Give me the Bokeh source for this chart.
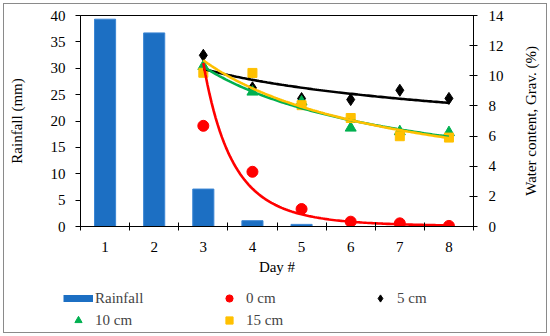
import math
import numpy as np
from bokeh.plotting import figure
from bokeh.layouts import column, row
from bokeh.models import (Range1d, LinearAxis, FixedTicker, SingleIntervalTicker,
                          ColumnDataSource, Legend, LegendItem, Label)
from bokeh.core.properties import value
from bokeh.embed import file_html
from bokeh.resources import INLINE

# ---- data ----
days = [1, 2, 3, 4, 5, 6, 7, 8]
rainfall = [39.3, 36.7, 7.1, 1.1, 0.4, 0.0, 0.0, 0.0]
wc_days = [3, 4, 5, 6, 7, 8]
wc_0cm = [6.68, 3.63, 1.16, 0.32, 0.21, 0.04]
wc_5cm = [11.36, 9.2, 8.49, 8.42, 9.04, 8.5]
wc_10cm = [10.63, 8.93, 8.27, 6.54, 6.3, 6.24]
wc_15cm = [10.2, 10.19, 8.05, 7.2, 5.99, 5.9]
left_ticks_step = 5
right_ticks_step = 2
right_label = "Water content, Grav. (%)"

FONT = "Liberation Serif"
FS = "15px"
BLUE = "#1c6fc3"
RED = "#ff0000"
BLACK = "#000000"
GREEN = "#00b050"
YELLOW = "#ffc000"

p = figure(width=510, height=280, output_backend="svg", toolbar_location=None,
           x_range=Range1d(0.5, 8.5), y_range=Range1d(0, 40),
           min_border_left=80, min_border_top=15, min_border_right=37, min_border_bottom=54)
p.frame_align = False
p.extra_y_ranges = {"wc": Range1d(0, 14)}
p.xgrid.visible = False
p.ygrid.visible = False
p.outline_line_color = "black"
p.outline_line_width = 1
p.background_fill_color = "white"
p.border_fill_color = None

# bars
src_bar = ColumnDataSource(dict(x=days, top=rainfall))
p.vbar(x="x", top="top", width=0.43, bottom=0, source=src_bar,
       fill_color=BLUE, line_color="#3b86d4", line_width=1)

# scatter points
series = [
    ("0 cm", wc_0cm, RED, "circle", 11),
    ("5 cm", wc_5cm, BLACK, "diamond", 12),
    ("10 cm", wc_10cm, GREEN, "triangle", 11),
    ("15 cm", wc_15cm, YELLOW, "square", 9),
]
for name, vals, col, mk, sz in series:
    p.scatter(wc_days, vals, marker=mk, size=sz, fill_color=col,
              line_color=col, y_range_name="wc")

# power-law trendlines fitted to the points
xs = np.linspace(wc_days[0], wc_days[-1], 120)
for name, vals, col, mk, sz in [series[1], series[2], series[3], series[0]]:
    b, a = np.polyfit(np.log(wc_days), np.log(vals), 1)
    p.line(xs, np.exp(a) * xs ** b, line_color=col, line_width=2.6, y_range_name="wc")

# axes styling
def style_axis(ax):
    ax.axis_line_color = "black"
    ax.axis_line_width = 1
    ax.major_tick_line_color = "black"
    ax.minor_tick_line_color = "black"
    ax.major_label_text_font = FONT
    ax.major_label_text_font_size = FS
    ax.major_label_text_color = "black"
    ax.axis_label_text_font = FONT
    ax.axis_label_text_font_size = FS
    ax.axis_label_text_font_style = "normal"
    ax.axis_label_text_color = "black"

yl = p.yaxis[0]
style_axis(yl)
yl.ticker = SingleIntervalTicker(interval=left_ticks_step, num_minor_ticks=0)
yl.major_tick_in = 0
yl.major_tick_out = 5
yl.major_label_standoff = 10
yl.axis_label = "Rainfall (mm)"
yl.axis_label_standoff = 23

xa = p.xaxis[0]
style_axis(xa)
minor = [d - 0.5 for d in days] + [days[-1] + 0.5]
xa.ticker = FixedTicker(ticks=days, minor_ticks=minor)
xa.major_tick_in = 0
xa.major_tick_out = 0
xa.minor_tick_in = 4
xa.minor_tick_out = 4
xa.major_label_standoff = 11
xa.axis_label = "Day #"
xa.axis_label_standoff = 4

yr = LinearAxis(y_range_name="wc")
style_axis(yr)
yr.ticker = SingleIntervalTicker(interval=right_ticks_step, num_minor_ticks=0)
yr.major_tick_in = 4
yr.major_tick_out = 4
yr.major_label_standoff = 11
p.add_layout(yr, "right")

# ---- right axis title strip (text reads bottom-to-top) ----
r = figure(width=40, height=280, output_backend="svg", toolbar_location=None,
           x_range=Range1d(0, 1), y_range=Range1d(0, 1),
           x_axis_type=None, y_axis_type=None,
           min_border_left=0, min_border_right=0, min_border_top=0, min_border_bottom=0)
r.frame_align = False
r.xgrid.visible = False
r.ygrid.visible = False
r.outline_line_color = None
r.border_fill_color = None
r.background_fill_color = None
r.add_layout(Label(x=0.5, y=0.57, text=right_label, angle=math.pi / 2,
                   text_align="center", text_baseline="middle",
                   text_font=FONT, text_font_size=FS, text_color="black"))

# ---- legend strip (separate figure below the chart) ----
q = figure(width=550, height=56, output_backend="svg", toolbar_location=None,
           x_range=Range1d(0, 1), y_range=Range1d(0, 1),
           x_axis_type=None, y_axis_type=None,
           min_border_left=0, min_border_right=0, min_border_top=0, min_border_bottom=0)
q.frame_align = False
q.xgrid.visible = False
q.ygrid.visible = False
q.outline_line_color = None
q.border_fill_color = None
q.background_fill_color = None

proxy = q.line(days, rainfall, line_color=BLUE, line_width=7, visible=False)
items = [LegendItem(label=value("Rainfall"), renderers=[proxy])]
for name, vals, col, mk, sz in series:
    rr = q.scatter(wc_days, vals, marker=mk, size=sz, fill_color=col, line_color=col,
                   visible=False)
    items.append(LegendItem(label=value(name), renderers=[rr]))
legend = Legend(items=items, orientation="horizontal", ncols=3,
                glyph_width=30, glyph_height=18, label_standoff=2, label_width=115,
                spacing=4, label_text_font=FONT, label_text_font_size=FS,
                border_line_alpha=0, background_fill_alpha=0, padding=0, margin=0,
                inactive_fill_alpha=0, location=(63, 7))
q.add_layout(legend, "center")

layout = column(row(p, r, spacing=0), q, spacing=0)
layout.styles = {"outline": "1px solid #8a8a8a", "outline-offset": "-4px"}
open("out.html", "w").write(file_html(layout, INLINE))
